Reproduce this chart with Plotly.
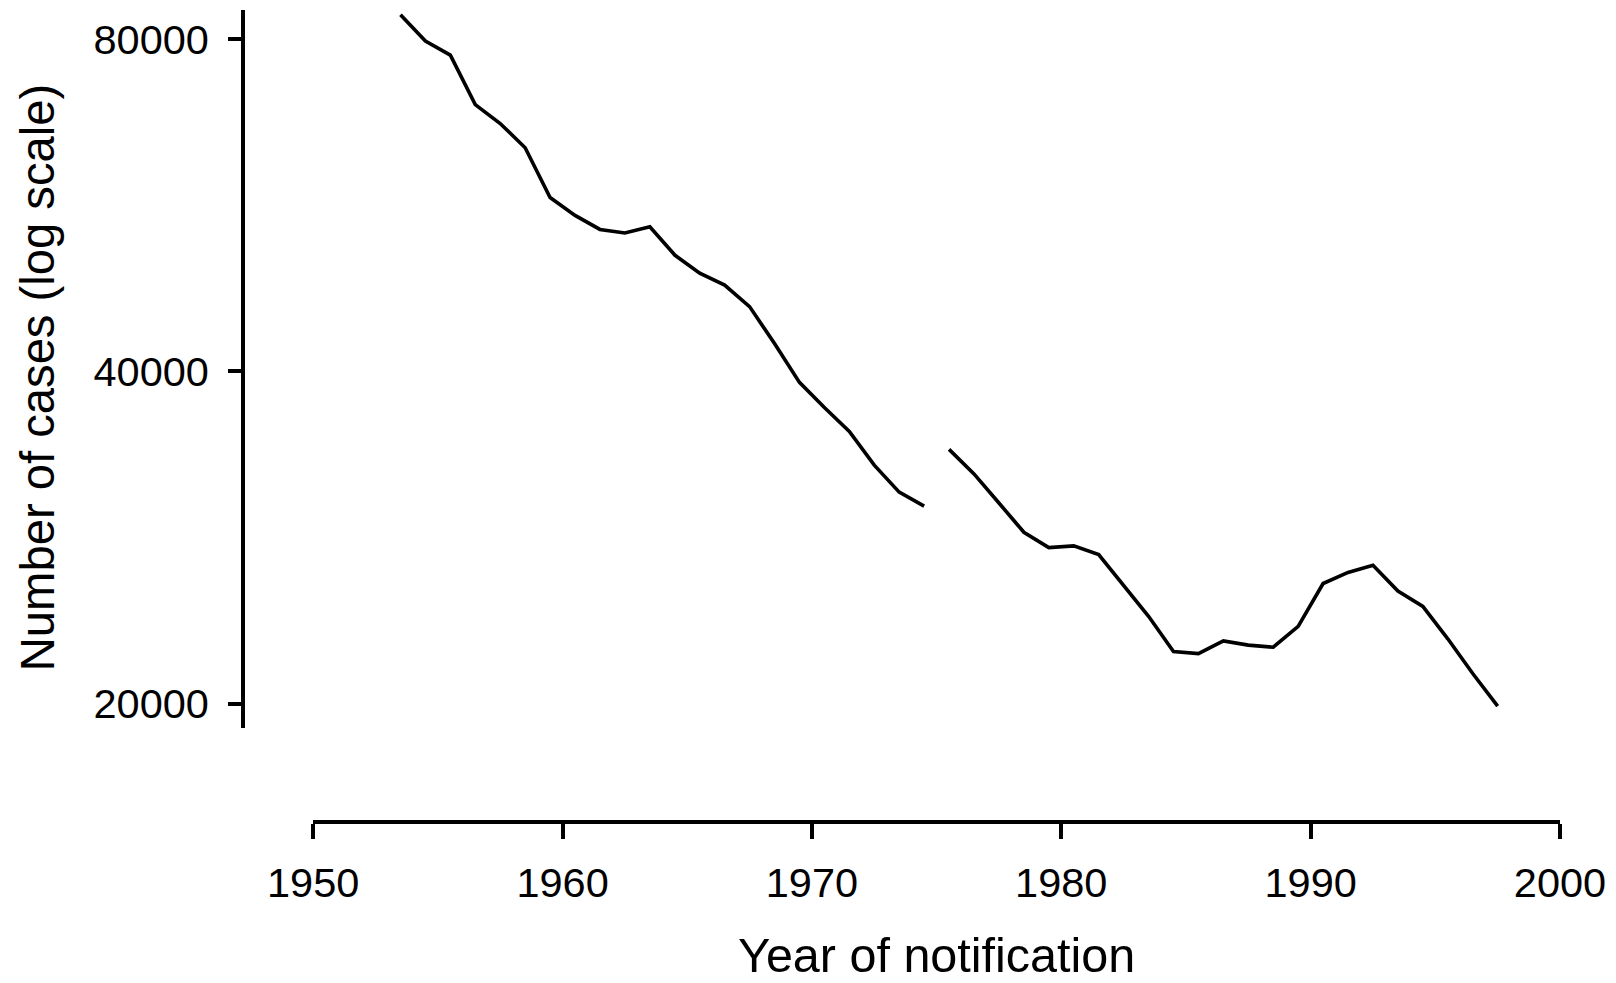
import plotly.graph_objects as go

# Annual notifications, plotted at mid-year. The series is broken in 1975.
years_early = list(range(1953, 1975))
cases_early = [84200, 79700, 77400, 69800, 67100, 63800, 57500, 55400, 53800, 53400,
               54100, 51000, 49100, 47900, 45800, 42400, 39100, 37100, 35300, 32900,
               31100, 30200]

years_late = list(range(1975, 1998))
cases_late = [34000, 32300, 30400, 28600, 27700, 27800, 27300, 25600, 24000, 22300,
              22200, 22800, 22600, 22500, 23500, 25700, 26300, 26700, 25300, 24500,
              22900, 21300, 19900]

x_ticks = [1950, 1960, 1970, 1980, 1990, 2000]
y_ticks = [20000, 40000, 80000]

FONT = "Liberation Sans, Arial, Helvetica, sans-serif"
LW = 3.6
line_style = dict(color="black", width=LW)

fig = go.Figure()
for yrs, vals in ((years_early, cases_early), (years_late, cases_late)):
    fig.add_trace(go.Scatter(
        x=[y + 0.5 for y in yrs], y=vals, mode="lines",
        line=line_style, showlegend=False, hoverinfo="x+y",
    ))

fig.update_layout(
    width=1616, height=983,
    margin=dict(l=243, r=53, t=10, b=161, pad=0),
    paper_bgcolor="white", plot_bgcolor="white",
    font=dict(family=FONT, color="black"),
    xaxis=dict(
        domain=[0.0533, 1.0], range=[1950, 2000],
        anchor="free", position=0,
        tickmode="array", tickvals=x_ticks, ticktext=[str(t) for t in x_ticks],
        ticks="outside", ticklen=15, tickwidth=LW, tickcolor="black",
        showline=True, linewidth=LW, linecolor="black",
        showgrid=False, zeroline=False,
        tickfont=dict(size=41.5, family=FONT, color="black"),
        ticklabelstandoff=8,
    ),
    yaxis=dict(
        domain=[0.1158, 1.0], type="log", range=[4.27901, 4.92964],
        anchor="free", position=0,
        tickmode="array", tickvals=y_ticks, ticktext=[str(t) for t in y_ticks],
        ticks="outside", ticklen=13, tickwidth=LW, tickcolor="black",
        showline=True, linewidth=LW, linecolor="black",
        showgrid=False, zeroline=False,
        tickfont=dict(size=41.5, family=FONT, color="black"),
        ticklabelstandoff=11,
    ),
    annotations=[
        dict(text="Year of notification", xref="paper", yref="paper",
             x=0.5265, y=-0.1638, xanchor="center", yanchor="middle",
             showarrow=False, font=dict(size=48.5, family=FONT, color="black")),
        dict(text="Number of cases (log scale)", xref="paper", yref="paper",
             x=-0.1555, y=0.5468, xanchor="center", yanchor="middle",
             textangle=-90, showarrow=False,
             font=dict(size=47.2, family=FONT, color="black")),
    ],
)

fig.write_html("out.html")
